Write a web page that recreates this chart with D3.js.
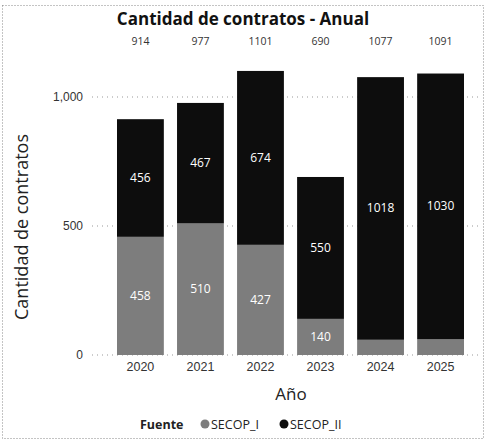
<!DOCTYPE html>
<html>
<head>
<meta charset="utf-8">
<script src="https://cdn.jsdelivr.net/npm/d3@7"></script>
<style>
  body { margin: 0; background: #fff; }
  svg { font-family: "Open Sans", "DejaVu Sans", sans-serif; }
</style>
</head>
<body>
<svg id="chart" width="486" height="443"></svg>
<script>
// data
const years = ["2020", "2021", "2022", "2023", "2024", "2025"];
const secopI = [458, 510, 427, 140, 59, 61];
const secopII = [456, 467, 674, 550, 1018, 1030];
const totals = [914, 977, 1101, 690, 1077, 1091];
const yTicks = [0, 500, 1000];
const sources = ["SECOP_I", "SECOP_II"];
const colors = ["#7d7d7d", "#0d0d0d"];

const svg = d3.select("#chart");

// outer dotted frame
svg.append("rect")
    .attr("x", 2.5).attr("y", 5.5)
    .attr("width", 481).attr("height", 433)
    .attr("fill", "none")
    .attr("stroke", "#888")
    .attr("stroke-dasharray", "1,2");

const x = d3.scaleBand()
    .domain(years)
    .range([108, 473])
    .paddingInner(0.22)
    .paddingOuter(0.15);

const y = d3.scaleLinear()
    .domain([0, 1000])
    .range([355, 97]);

// gridlines
svg.append("g")
    .selectAll("line")
    .data(yTicks)
    .join("line")
    .attr("x1", 92).attr("x2", 482)
    .attr("y1", d => y(d)).attr("y2", d => y(d))
    .attr("stroke", "#999")
    .attr("stroke-dasharray", "1,4");

// y axis labels
const yAxis = svg.append("g")
    .attr("transform", "translate(83,0)")
    .call(d3.axisLeft(y).tickValues(yTicks).tickSize(0).tickPadding(0)
        .tickFormat(d3.format(",")));
yAxis.select(".domain").remove();
yAxis.selectAll("text").attr("font-size", 12).attr("fill", "#333");

// x axis labels
const xAxis = svg.append("g")
    .attr("transform", "translate(0,360)")
    .call(d3.axisBottom(x).tickSize(0).tickPadding(2));
xAxis.select(".domain").remove();
xAxis.selectAll("text").attr("font-size", 12.5).attr("fill", "#333");

// stacked bars
const rows = years.map((yr, i) => ({ year: yr, SECOP_I: secopI[i], SECOP_II: secopII[i] }));
const stacked = d3.stack().keys(sources)(rows);

const layers = svg.append("g")
    .selectAll("g")
    .data(stacked)
    .join("g")
    .attr("fill", (d, i) => colors[i]);

layers.selectAll("rect")
    .data(d => d)
    .join("rect")
    .attr("x", d => x(d.data.year))
    .attr("y", d => y(d[1]))
    .attr("width", x.bandwidth())
    .attr("height", d => y(d[0]) - y(d[1]));

// segment labels (skip small ones)
layers.selectAll("text")
    .data(d => d.map(v => ({ v, key: d.key })))
    .join("text")
    .filter(d => d.v[1] - d.v[0] >= 100)
    .attr("x", d => x(d.v.data.year) + x.bandwidth() / 2)
    .attr("y", d => (y(d.v[0]) + y(d.v[1])) / 2 + 4)
    .attr("text-anchor", "middle")
    .attr("font-size", 12)
    .attr("fill", "#fff")
    .text(d => d.v[1] - d.v[0]);

// totals above
svg.append("g")
    .selectAll("text")
    .data(totals)
    .join("text")
    .attr("x", (d, i) => x(years[i]) + x.bandwidth() / 2)
    .attr("y", 45)
    .attr("text-anchor", "middle")
    .attr("font-size", 10.5)
    .attr("fill", "#333")
    .text(d => d);

// title
svg.append("text")
    .attr("x", 243).attr("y", 25)
    .attr("text-anchor", "middle")
    .attr("font-size", 17)
    .attr("font-weight", "bold")
    .attr("fill", "#111")
    .text("Cantidad de contratos - Anual");

// axis titles
svg.append("text")
    .attr("transform", "translate(28,227) rotate(-90)")
    .attr("text-anchor", "middle")
    .attr("font-size", 18)
    .attr("fill", "#222")
    .text("Cantidad de contratos");

svg.append("text")
    .attr("x", 291).attr("y", 400)
    .attr("text-anchor", "middle")
    .attr("font-size", 17)
    .attr("fill", "#222")
    .text("Año");

// legend
const legend = svg.append("g").attr("transform", "translate(0,424)");
legend.append("text")
    .attr("x", 140).attr("y", 4.5)
    .attr("font-size", 12.5)
    .attr("font-weight", "bold")
    .attr("fill", "#222")
    .text("Fuente");
const items = legend.selectAll("g.item")
    .data(sources)
    .join("g")
    .attr("class", "item")
    .attr("transform", (d, i) => `translate(${i === 0 ? 205 : 284},0)`);
items.append("circle")
    .attr("r", 4.5)
    .attr("fill", (d, i) => colors[i]);
items.append("text")
    .attr("x", 6).attr("y", 4.5)
    .attr("font-size", 12.5)
    .attr("fill", "#222")
    .text(d => d);
</script>
</body>
</html>
